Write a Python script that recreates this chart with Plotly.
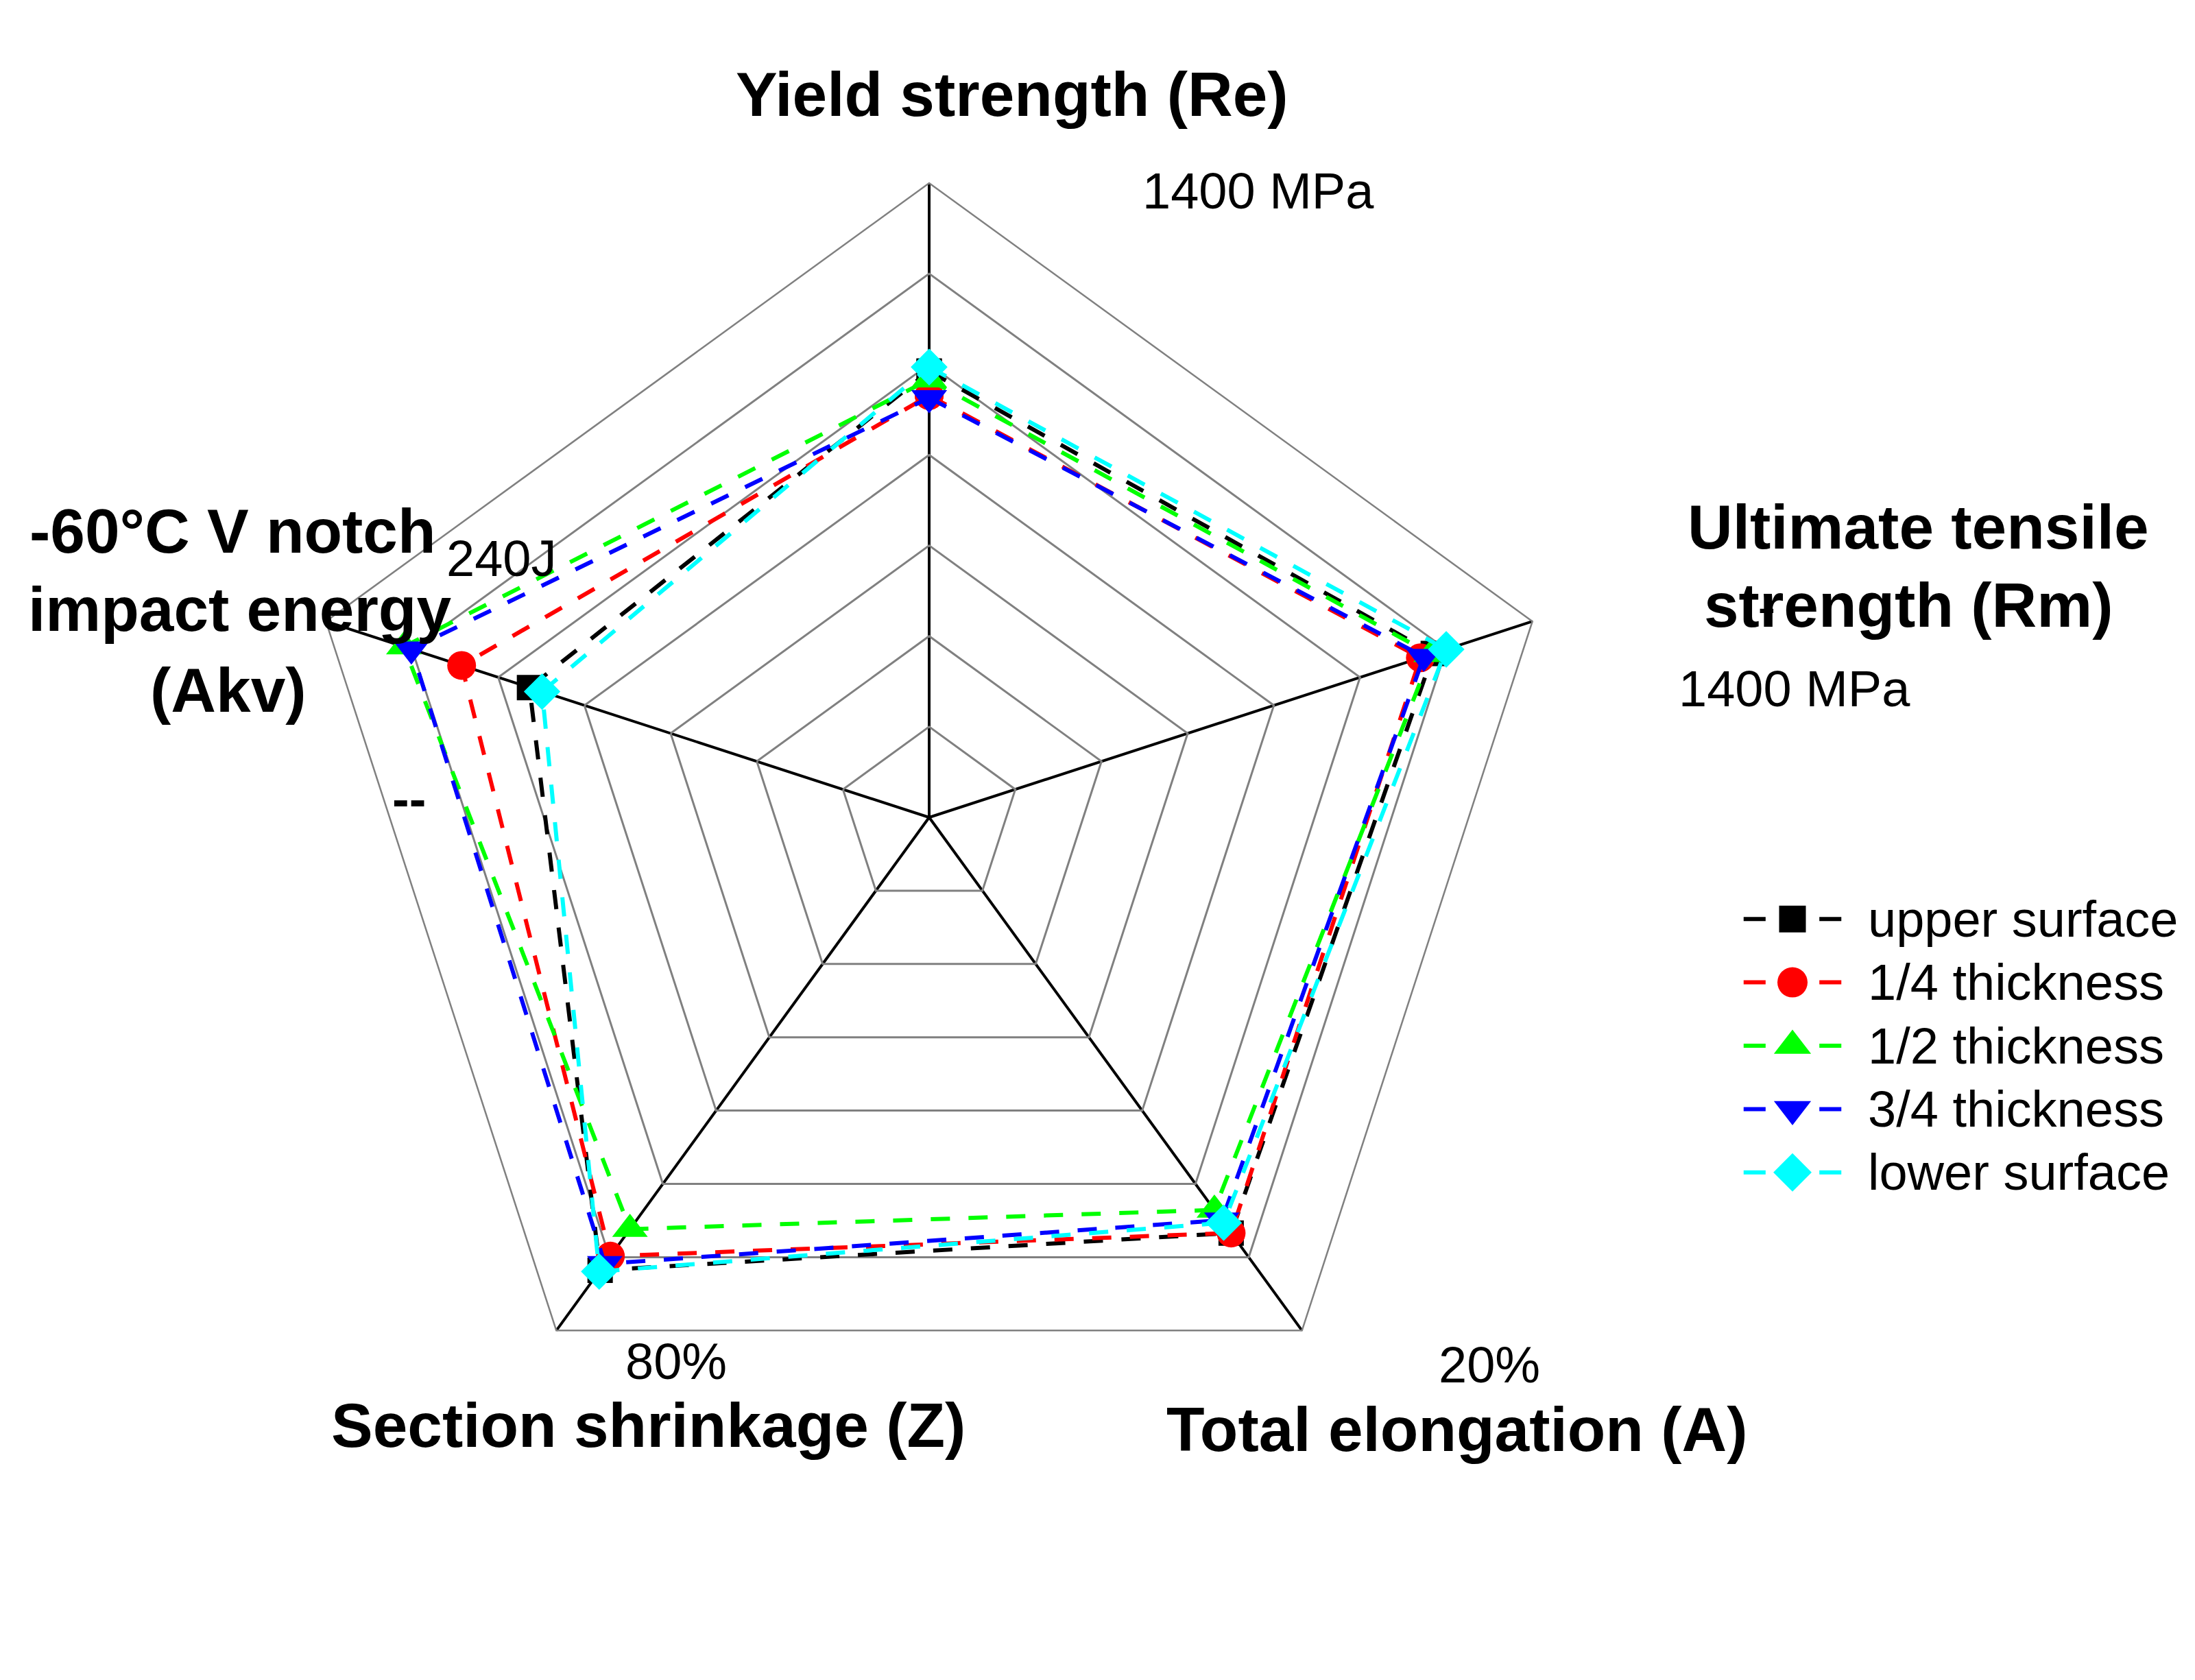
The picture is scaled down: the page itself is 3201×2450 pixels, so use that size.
import plotly.graph_objects as go

# ---------------- data ----------------
categories = ["Yield strength (Re)", "Ultimate tensile strength (Rm)",
              "Total elongation (A)", "Section shrinkage (Z)",
              "-60°C V notch impact energy (Akv)"]
axis_max = [1400, 1400, 20, 80, 240]          # value at outer ring of each axis

series_names = ["upper surface", "1/4 thickness", "1/2 thickness",
                "3/4 thickness", "lower surface"]
upper_surface = [985, 1170, 16.2, 70.6, 159]
quarter_thick = [931, 1140, 16.2, 68.4, 186]
half_thick = [966, 1165, 15.3, 64.2, 209]
three_q_thick = [926, 1148, 15.7, 69.6, 206]
lower_surface = [994, 1200, 15.8, 70.8, 154]
series_values = [upper_surface, quarter_thick, half_thick, three_q_thick, lower_surface]

# ---------------- styles ----------------
colors = ["#000000", "#FF0000", "#00FF00", "#0000FF", "#00FFFF"]
symbols = ["square", "circle", "triangle-up", "triangle-down", "diamond"]
msizes = [37, 42, 45, 45, 41]
FONT = "Liberation Sans, Arial, sans-serif"
W, H = 3201, 2450
n_rings = 7

fig = go.Figure()

for name, vals, c, s, ms in zip(series_names, series_values, colors, symbols, msizes):
    r = [v / m for v, m in zip(vals, axis_max)]
    fig.add_trace(go.Scatterpolar(
        r=r + [r[0]], theta=categories + [categories[0]],
        mode="lines+markers", name=name, showlegend=False,
        line=dict(color=c, width=6, dash="28px,27px"),
        marker=dict(symbol=s, size=ms, color=c, line=dict(width=0)),
        cliponaxis=False,
    ))

# ---------------- custom legend (drawn through a hidden cartesian axis) ----------------
for i, (name, c, s, ms) in enumerate(zip(series_names, colors, symbols, msizes)):
    fig.add_trace(go.Scatter(
        x=[-1, -0.55, None, 0.55, 1], y=[i, i, None, i, i],
        mode="lines", line=dict(color=c, width=6),
        xaxis="x", yaxis="y", showlegend=False, hoverinfo="skip"))
    fig.add_trace(go.Scatter(
        x=[0], y=[i], mode="markers",
        marker=dict(symbol=s, size=ms + 2, color=c, line=dict(width=0)),
        xaxis="x", yaxis="y", showlegend=False, hoverinfo="skip"))
    fig.add_annotation(x=1.52, y=i, xref="x", yref="y", text=name,
                       showarrow=False, xanchor="left", yanchor="middle",
                       font=dict(family=FONT, size=74, color="black"))


def px_x(p):
    return p / W


def px_y(p):
    return 1 - p / H


# ---------------- text labels ----------------
labels = [
    ("Yield strength (Re)", 1476, 137, 91, True),
    ("1400 MPa", 1835, 278, 74, False),
    ("Ultimate tensile", 2797, 768, 91, True),
    ("strength (Rm)", 2783, 882, 91, True),
    ("-", 2576, 884, 80, False),
    ("1400 MPa", 2617, 1004, 74, False),
    ("-60°C V notch", 339, 774, 91, True),
    ("impact energy", 349, 888, 91, True),
    ("(Akv)", 333, 1006, 91, True),
    ("240J", 731, 814, 74, False),
    ("--", 596, 1166, 74, True),
    ("80%", 986, 1986, 74, False),
    ("Section shrinkage (Z)", 945, 2078, 91, True),
    ("20%", 2172, 1990, 74, False),
    ("Total elongation (A)", 2125, 2084, 91, True),
]
for txt, x, y, sz, bold in labels:
    fig.add_annotation(
        x=px_x(x), y=px_y(y), xref="paper", yref="paper",
        text=f"<b>{txt}</b>" if bold else txt, showarrow=False,
        xanchor="center", yanchor="middle",
        font=dict(family=FONT, size=sz, color="black"))

cx, cy, R = 1355, 1192, 925
fig.update_layout(
    width=W, height=H,
    margin=dict(l=0, r=0, t=0, b=0),
    paper_bgcolor="white", plot_bgcolor="white",
    showlegend=False,
    polar=dict(
        domain=dict(x=[px_x(cx - R), px_x(cx + R)], y=[px_y(cy + R), px_y(cy - R)]),
        bgcolor="white",
        gridshape="linear",
        radialaxis=dict(range=[0, 1], tickvals=[k / n_rings for k in range(1, n_rings)],
                        showticklabels=False, ticks="", showline=False,
                        gridcolor="#808080", gridwidth=2.5),
        angularaxis=dict(rotation=90, direction="clockwise",
                         showticklabels=False, ticks="",
                         showline=True, linecolor="#808080", linewidth=2.5,
                         gridcolor="#000000", gridwidth=4),
    ),
    xaxis=dict(domain=[px_x(2500), px_x(2728)], range=[-1.6, 1.6],
               visible=False, fixedrange=True),
    yaxis=dict(domain=[px_y(1756), px_y(1294)], range=[4.5, -0.5],
               visible=False, fixedrange=True),
)

fig.write_html("out.html", config={"displayModeBar": False},
               post_script="document.body.style.margin='0';")
